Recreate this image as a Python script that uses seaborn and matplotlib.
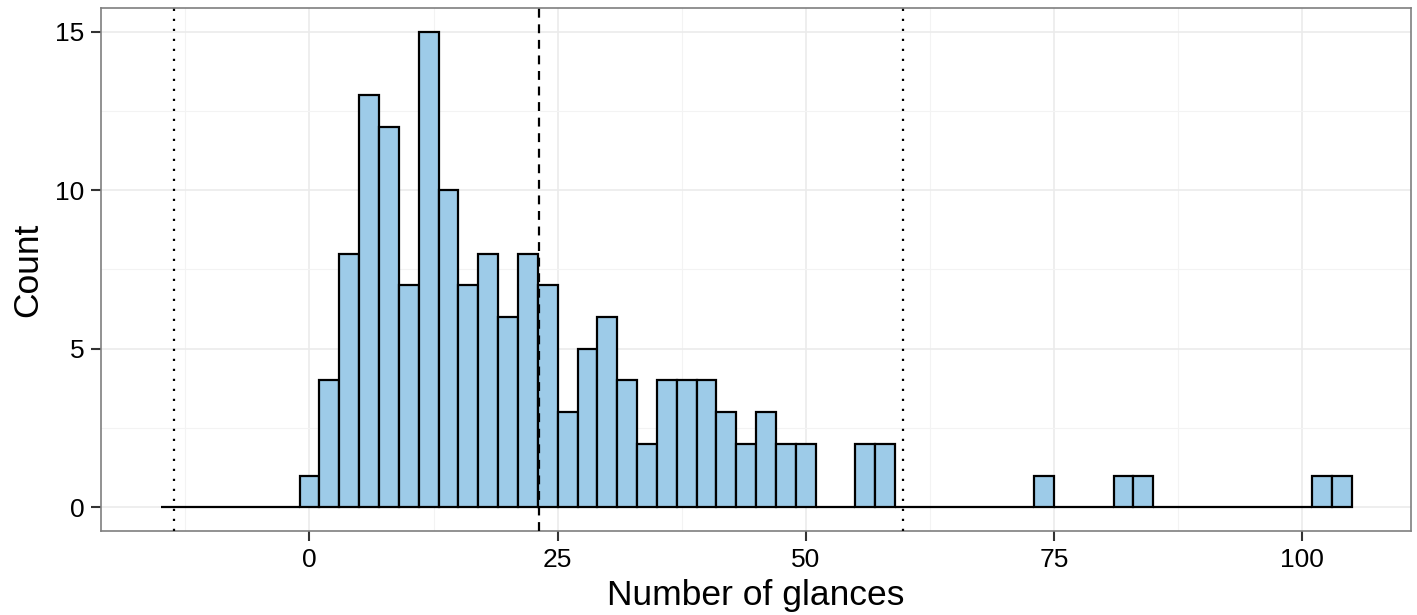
import matplotlib
matplotlib.use("Agg")
import matplotlib.pyplot as plt
import numpy as np
import pandas as pd
import seaborn as sns
from matplotlib.ticker import MultipleLocator

# bin centres (width 2) with their counts
glances = [0, 2, 4, 6, 8, 10, 12, 14, 16, 18, 20, 22, 24, 26, 28, 30, 32, 34,
           36, 38, 40, 42, 44, 46, 48, 50, 56, 58, 74, 82, 84, 102, 104]
counts = [1, 4, 8, 13, 12, 7, 15, 10, 7, 8, 6, 8, 7, 3, 5, 6, 4, 2,
          4, 4, 4, 3, 2, 3, 2, 2, 2, 2, 1, 1, 1, 1, 1]
bin_edges = list(range(-15, 106, 2))

mean_glances = 23.1
lower_limit = -13.6
upper_limit = 59.8

df = pd.DataFrame({'glances': glances, 'count': counts})

sns.set_theme(style="white")
plt.rcParams['font.family'] = ['Liberation Sans', 'DejaVu Sans']

fig = plt.figure(figsize=(14.17, 6.15), dpi=100)
ax = fig.add_axes([0.0713, 0.1366, 0.9247, 0.8504])

sns.histplot(data=df, x='glances', weights='count', bins=bin_edges, ax=ax,
             color='#9dcbe8', alpha=1, edgecolor='black', linewidth=1.6,
             zorder=2)

ax.axvline(mean_glances, color='black', linestyle=(0, (4, 3)), linewidth=1.6, zorder=3)
for lim in (lower_limit, upper_limit):
    ax.axvline(lim, color='black', linestyle=(0, (1, 3.5)), linewidth=1.6, zorder=3)

ax.set_xlim(-21, 111)
ax.set_ylim(-0.75, 15.75)
ax.xaxis.set_major_locator(MultipleLocator(25))
ax.xaxis.set_minor_locator(MultipleLocator(12.5))
ax.yaxis.set_major_locator(MultipleLocator(5))
ax.yaxis.set_minor_locator(MultipleLocator(2.5))

ax.grid(which='major', color='#ebebeb', linewidth=1.2, zorder=0)
ax.grid(which='minor', color='#f3f3f3', linewidth=0.8, zorder=0)
ax.set_axisbelow(True)

for spine in ax.spines.values():
    spine.set_color('#7f7f7f')
    spine.set_linewidth(1.2)

ax.tick_params(which='major', direction='out', length=7, width=1.5,
               color='#333333', labelsize=19, labelcolor='black', pad=5,
               bottom=True, left=True)
ax.tick_params(which='minor', length=0)

ax.set_xlabel('Number of glances', fontsize=25.5, color='black', labelpad=5)
ax.set_ylabel('Count', fontsize=25.5, color='black', labelpad=8)

fig.savefig('out.png', dpi=100)
plt.close(fig)
